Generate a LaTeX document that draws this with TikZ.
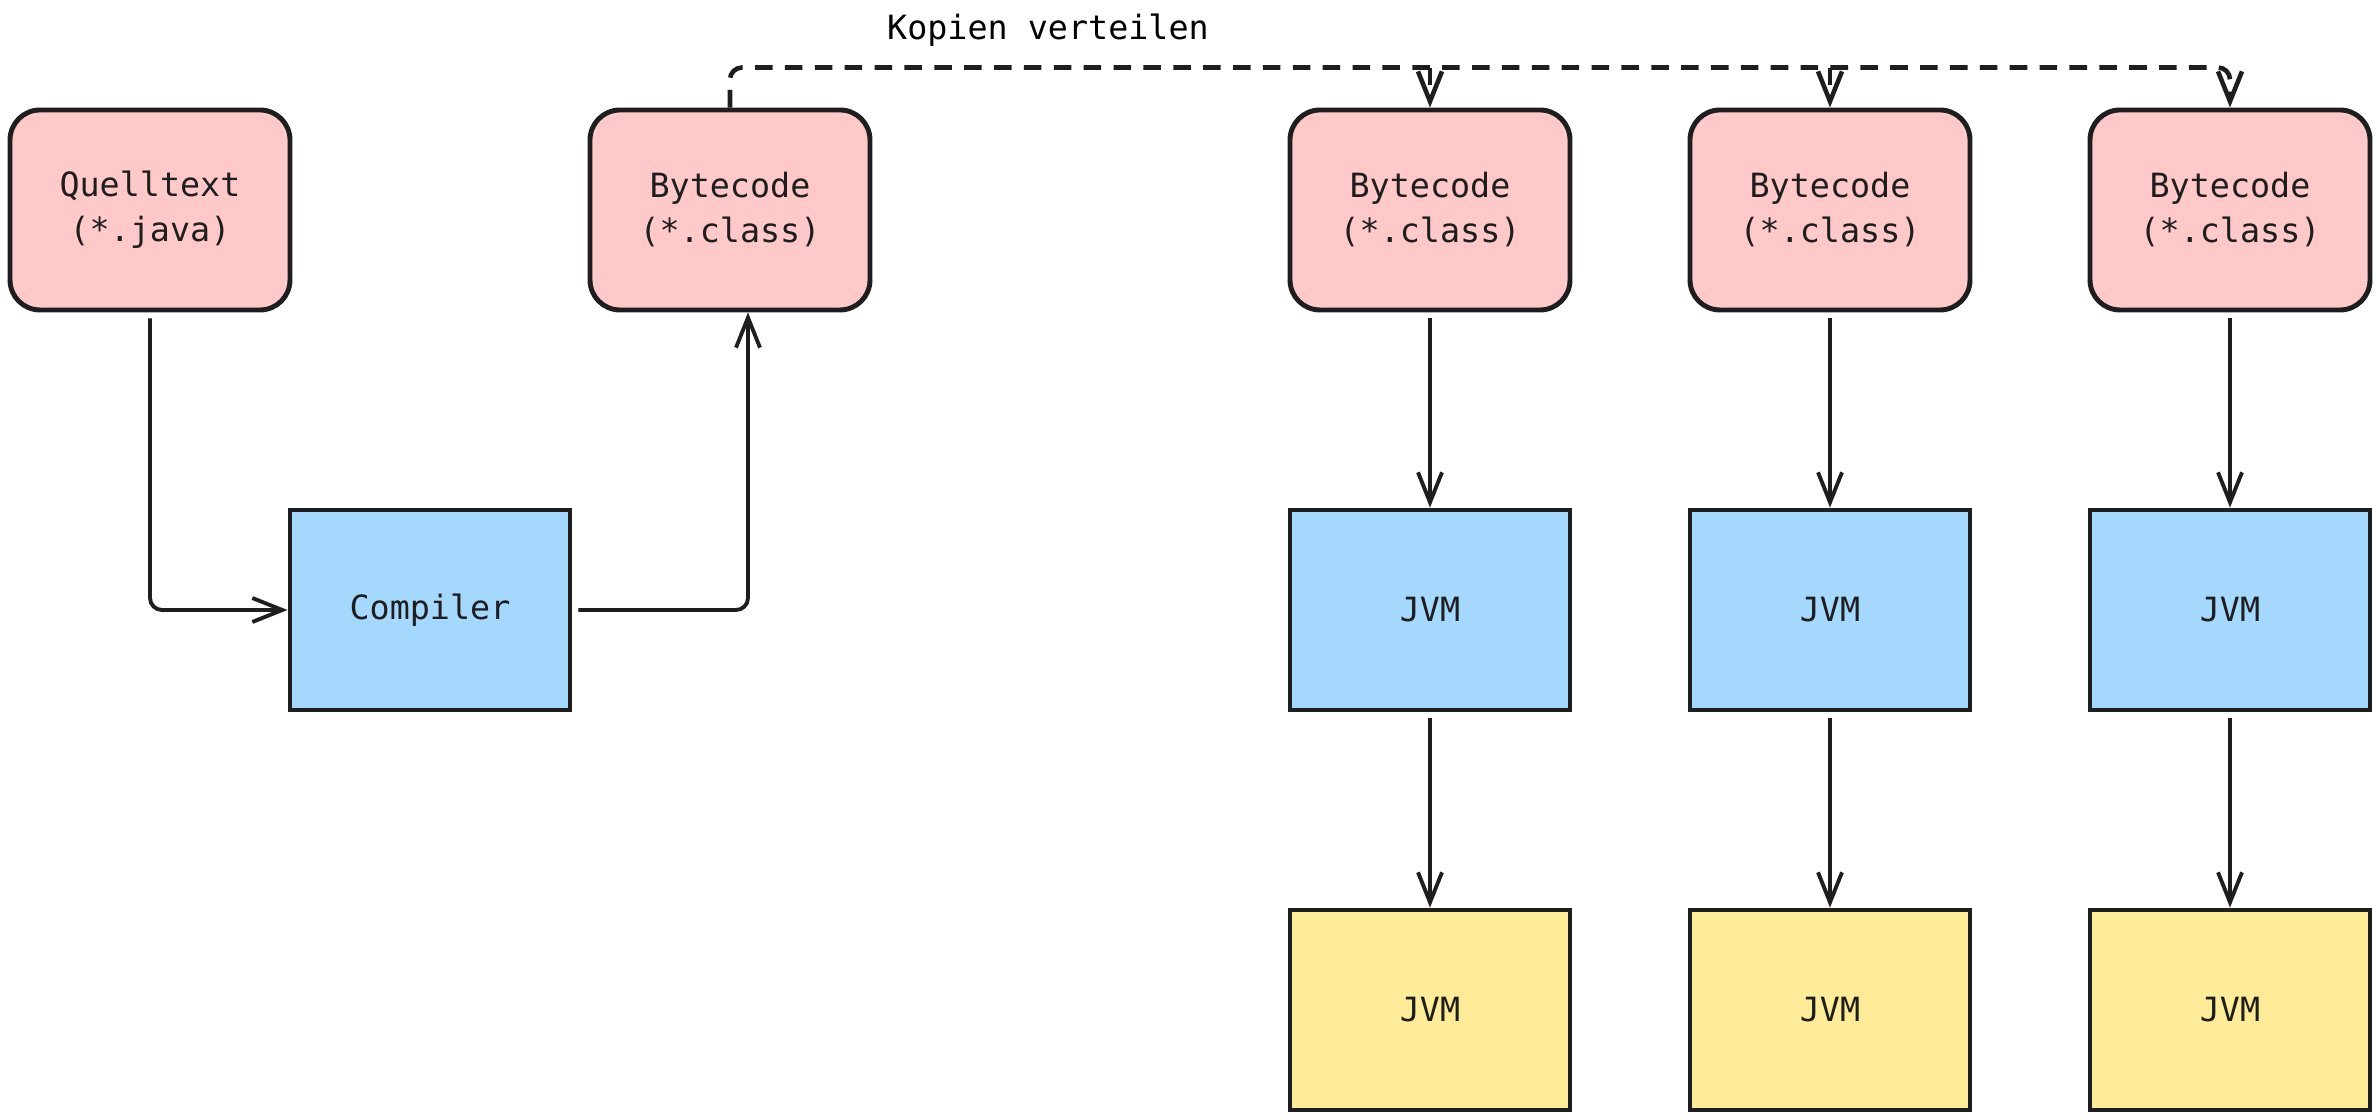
\documentclass[tikz,border=0pt]{standalone}
\usepackage{fontspec}
\setmonofont{DejaVu Sans Mono}
\usetikzlibrary{positioning,arrows.meta}
\definecolor{quelle}{HTML}{FFC9C9}
\definecolor{werkzeug}{HTML}{A5D8FF}
\definecolor{ausgabe}{HTML}{FFEC99}
\definecolor{strich}{HTML}{1E1E1E}
\begin{document}
\begin{tikzpicture}[
        font=\ttfamily\fontsize{9.5}{12.8}\selectfont,
        % Kasten: dunkler Rand, feste Groesse
        box/.style={
            draw=strich,
            line width=1.4pt,
            minimum width=2.8cm,
            minimum height=2.0cm,
            inner sep=0pt,
            align=center,
            text=strich
        },
        srcbox/.style={box, fill=quelle, rounded corners=0.3cm},
        toolbox/.style={box, fill=werkzeug},
        vmbox/.style={box, fill=ausgabe},
        flow/.style={
            draw=strich,
            line width=1.1pt,
            -{Straight Barb[length=0.3cm, width=0.24cm]},
            shorten <=0.06cm,
            rounded corners=0.12cm
        },
        copyline/.style={flow, line width=1.3pt, dash pattern=on 5pt off 3.5pt, shorten <=0pt}
    ]
    \useasboundingbox (0,0) rectangle (23.8,11.2);

    % --- Uebersetzen ---
    \node[srcbox] (src) at (1.5, 9.1) {Quelltext\\(*.java)};
    \node[toolbox] (comp) at (4.3, 5.1) {Compiler};
    \node[srcbox] (bc0) at (7.3, 9.1) {Bytecode\\(*.class)};

    \draw[flow] (src) |- (comp);
    \draw[flow] (comp.east) -| ([xshift=0.18cm]bc0.south);

    % --- Ausfuehren auf mehreren JVMs ---
    \foreach \i/\x in {1/14.3, 2/18.3, 3/22.3} {
        \node[srcbox] (bc\i) at (\x, 9.1) {Bytecode\\(*.class)};
        \node[toolbox] (jvm\i) at (\x, 5.1) {JVM};
        \node[vmbox] (vm\i) at (\x, 1.1) {JVM};
        \draw[flow] (bc\i) -- (jvm\i);
        \draw[flow] (jvm\i) -- (vm\i);
    }

    % Verteilen der Kopien
    \coordinate[above=0.4cm of bc0.north] (split);
    \draw[copyline] (bc0.north) -- (split) -| (bc3.north);
    \draw[copyline] (split -| bc1.north) -- (bc1.north);
    \draw[copyline] (split -| bc2.north) -- (bc2.north);
    \node (copylabel) at (10.48, 10.9) {Kopien verteilen};

\end{tikzpicture}
\end{document}
